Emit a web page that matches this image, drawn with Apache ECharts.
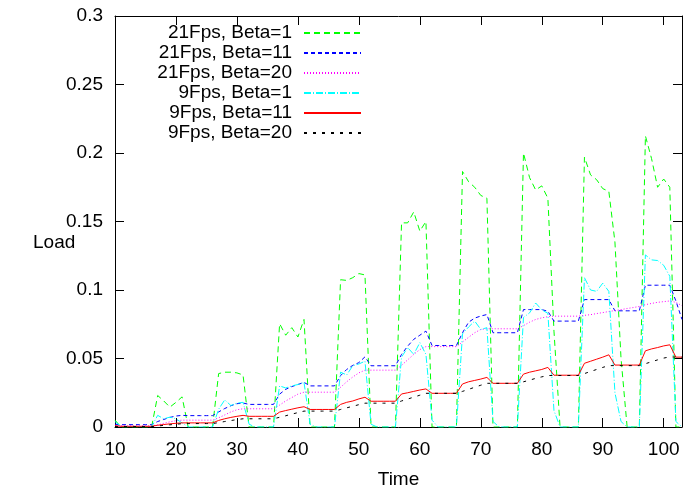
<!DOCTYPE html>
<html>
<head>
<meta charset="utf-8">
<script src="https://cdn.jsdelivr.net/npm/echarts@6/dist/echarts.min.js"></script>
<style>html,body{margin:0;padding:0;background:#fff;}#c{width:685px;height:494px;}</style>
</head>
<body>
<div id="c"></div>
<script>
var times = [10,11,12,13,14,15,16,17,18,19,20,21,22,23,24,25,26,27,28,29,30,31,32,33,34,35,36,37,38,39,40,41,42,43,44,45,46,47,48,49,50,51,52,53,54,55,56,57,58,59,60,61,62,63,64,65,66,67,68,69,70,71,72,73,74,75,76,77,78,79,80,81,82,83,84,85,86,87,88,89,90,91,92,93,94,95,96,97,98,99,100,101,102,103];

var fps21beta1 = [0.005,0,0,0,0,0,0,
  0.023,0.019,0.0145,0.018,0.022, 0,0,0,0,0,
  0.039,0.040,0.040,0.0395,0.038, 0,0,0,0,0,
  0.0754,0.067,0.0725,0.0657,0.0785, 0,0,0,0,0,
  0.1075,0.107,0.109,0.112,0.111, 0,0,0,0,0,
  0.149,0.149,0.157,0.143,0.150, 0,0,0,0,0,
  0.1865,0.179,0.175,0.169,0.167, 0,0,0,0,0,
  0.200,0.182,0.173,0.176,0.167, 0.07,0,0,0,0,
  0.197,0.184,0.1805,0.174,0.172, 0.135,0.05,0,0,0,
  0.2125,0.196,0.175,0.181,0.175, 0,0];

var fps21beta11 = [0.002,0.0017,0.0017,0.0017,0.0017,0.0017,0.0017,
  0.004,0.0055,0.007,0.008,0.0085, 0.0083,0.0083,0.0083,0.0083,0.0083,
  0.011,0.0135,0.0155,0.017,0.0175, 0.0165,0.0165,0.0165,0.0165,0.0165,
  0.024,0.0275,0.0295,0.031,0.0326, 0.030,0.030,0.030,0.030,0.030,
  0.0375,0.042,0.045,0.047,0.0512, 0.0447,0.0447,0.0447,0.0447,0.0447,
  0.053,0.059,0.064,0.067,0.070, 0.0595,0.0595,0.0595,0.0595,0.0595,
  0.0688,0.0765,0.0795,0.081,0.0821, 0.0688,0.0688,0.0688,0.0688,0.0688,
  0.0857,0.0857,0.0857,0.0857,0.0845, 0.0773,0.0773,0.0773,0.0773,0.0773,
  0.093,0.093,0.093,0.093,0.093, 0.0848,0.0848,0.0848,0.0848,0.0848,
  0.1035,0.1035,0.1035,0.1035,0.1035, 0.092,0.0785];

var fps21beta20 = [0.001,0.0008,0.0008,0.0008,0.0008,0.0008,0.0008,
  0.0015,0.0027,0.0038,0.0046,0.005, 0.005,0.005,0.005,0.005,0.005,
  0.0067,0.0088,0.011,0.0126,0.0133, 0.0133,0.0133,0.0133,0.0133,0.0133,
  0.016,0.019,0.0215,0.024,0.0254, 0.0254,0.0254,0.0254,0.0254,0.0254,
  0.029,0.033,0.0365,0.0395,0.0415, 0.0415,0.0415,0.0415,0.0415,0.0415,
  0.045,0.049,0.053,0.0565,0.0587, 0.0587,0.0587,0.0587,0.0587,0.0587,
  0.062,0.0655,0.0688,0.0712,0.0717, 0.0717,0.0717,0.0717,0.0717,0.0717,
  0.074,0.0765,0.0785,0.0797,0.0805, 0.0809,0.0809,0.0809,0.0809,0.0809,
  0.0815,0.082,0.0828,0.0835,0.0843, 0.085,0.0857,0.0865,0.0872,0.088,
  0.0893,0.0902,0.091,0.0915,0.092, 0.091,0.0885];

var fps9beta1 = [0.004,0.0003,0.0003,0.0003,0.0003,0.0003,0.0003,
  0.0085,0.006,0.0072,0.006,0.003, 0,0,0,0,0,
  0.013,0.0198,0.0157,0.0174,0.018, 0.002,0,0,0,0,
  0.030,0.0285,0.030,0.031,0.0326, 0.002,0,0,0,0,
  0.040,0.038,0.0447,0.046,0.048, 0.002,0,0,0,0,
  0.051,0.058,0.053,0.0616,0.053, 0.005,0,0,0,0,
  0.068,0.073,0.0773,0.0712,0.0725, 0.004,0,0,0,0,
  0.080,0.0833,0.0905,0.0855,0.083, 0.012,0,0,0,0,
  0.109,0.100,0.099,0.105,0.099, 0.025,0.004,0,0,0,
  0.1256,0.122,0.1215,0.118,0.110, 0.004,0];

var fps9beta11 = [0.001,0.0005,0.0005,0.0005,0.0005,0.0005,0.0005,
  0.0013,0.0018,0.0023,0.0027,0.003, 0.003,0.003,0.003,0.003,0.003,
  0.0048,0.006,0.007,0.0078,0.0085, 0.0078,0.0078,0.0078,0.0078,0.0078,
  0.0109,0.012,0.013,0.014,0.0148, 0.0128,0.0128,0.0128,0.0128,0.0128,
  0.0165,0.018,0.019,0.0205,0.0217, 0.0188,0.0188,0.0188,0.0188,0.0188,
  0.0241,0.025,0.026,0.027,0.0278, 0.0246,0.0246,0.0246,0.0246,0.0246,
  0.0314,0.033,0.034,0.035,0.0362, 0.0319,0.0319,0.0319,0.0319,0.0319,
  0.0386,0.040,0.041,0.042,0.0435, 0.0378,0.0378,0.0378,0.0378,0.0378,
  0.0465,0.048,0.0495,0.051,0.0527, 0.0452,0.0452,0.0452,0.0452,0.0452,
  0.0556,0.057,0.058,0.0592,0.060, 0.051,0.051];

var fps9beta20 = [0.0003,0.0003,0.0003,0.0003,0.0003,0.0003,0.0003,
  0.0007,0.0012,0.0016,0.002,0.0024, 0.0025,0.0025,0.0025,0.0025,0.0025,
  0.0032,0.004,0.0047,0.0054,0.006, 0.006,0.006,0.006,0.006,0.006,
  0.0071,0.0082,0.0094,0.0105,0.0116, 0.0116,0.0116,0.0116,0.0116,0.0116,
  0.0128,0.014,0.0151,0.0163,0.0174, 0.0174,0.0174,0.0174,0.0174,0.0174,
  0.019,0.0204,0.0218,0.0232,0.0246, 0.0246,0.0246,0.0246,0.0246,0.0246,
  0.026,0.0275,0.029,0.0305,0.0319, 0.0319,0.0319,0.0319,0.0319,0.0319,
  0.033,0.0342,0.0355,0.0366,0.0376, 0.0376,0.0376,0.0376,0.0376,0.0376,
  0.039,0.0405,0.042,0.0435,0.0448, 0.0448,0.0448,0.0448,0.0448,0.0448,
  0.0462,0.0476,0.049,0.0503,0.0512, 0.051,0.051];

var seriesNames = ['21Fps, Beta=1','21Fps, Beta=11','21Fps, Beta=20','9Fps, Beta=1','9Fps, Beta=11','9Fps, Beta=20'];
var seriesValues = [fps21beta1, fps21beta11, fps21beta20, fps9beta1, fps9beta11, fps9beta20];
var xTicks = [10,20,30,40,50,60,70,80,90,100];
var yTicks = [0,0.05,0.1,0.15,0.2,0.25,0.3];

var styles = [
  {color:'#00ff00', type:[6,4]},
  {color:'#0000ff', type:[4,3]},
  {color:'#ff00ff', type:[1,2]},
  {color:'#00ffff', type:[7,2,1,2]},
  {color:'#ff0000', type:'solid'},
  {color:'#000000', type:[3,6]}
];

var FONT = 'Liberation Sans, Arial, Helvetica, sans-serif';
var FS = 19;

var series = seriesNames.map(function(n, i){
  return {
    name: n, type: 'line', symbol: 'none', showSymbol: false,
    xAxisIndex: 0, yAxisIndex: 0,
    lineStyle: {color: styles[i].color, width: 1, type: styles[i].type},
    itemStyle: {color: styles[i].color},
    data: times.map(function(t, k){ return [t, seriesValues[i][k]]; })
  };
});

function xAxisBase(pos){
  return {
    type:'value', position: pos, min: 10, max: 103, interval: 10,
    axisLine:{show:true, onZero:false, lineStyle:{color:'#000', width:1}},
    axisTick:{show:true, inside:true, length:9, lineStyle:{color:'#000', width:1}},
    splitLine:{show:false}
  };
}
function yAxisBase(pos){
  return {
    type:'value', position: pos, min: 0, max: 0.3, interval: 0.05,
    axisLine:{show:true, onZero:false, lineStyle:{color:'#000', width:1}},
    axisTick:{show:true, inside:true, length:9, lineStyle:{color:'#000', width:1}},
    splitLine:{show:false}
  };
}

var xb = xAxisBase('bottom');
xb.name = 'Time'; xb.nameLocation = 'middle'; xb.nameGap = 43;
xb.nameTextStyle = {color:'#000', fontSize: FS, fontFamily: FONT};
xb.axisLabel = {show:true, margin: 13, color:'#000', fontSize: FS, fontFamily: FONT,
  formatter: function(v){ return xTicks.indexOf(v) >= 0 ? String(v) : ''; }};
var xt = xAxisBase('top'); xt.axisLabel = {show:false};

var yl = yAxisBase('left');
yl.axisLabel = {show:true, margin: 12, color:'#000', fontSize: FS, fontFamily: FONT,
  formatter: function(v){ for (var i=0;i<yTicks.length;i++){ if (Math.abs(yTicks[i]-v)<1e-9) return String(yTicks[i]); } return ''; }};
var yr = yAxisBase('right'); yr.axisLabel = {show:false};

var chart = echarts.init(document.getElementById('c'), null, {renderer:'canvas'});
chart.setOption({
  animation: false,
  backgroundColor: '#ffffff',
  grid: {left:115, right:2, top:16, bottom:64, containLabel:false},
  legend: {
    orient:'vertical', align:'right', right: 323, top: 23, padding: 0,
    itemWidth: 57, itemHeight: 10, itemGap: 0,
    itemStyle: {opacity: 0},
    textStyle: {color:'#000', fontSize: FS, fontFamily: FONT, lineHeight: 20, padding:[0,7,0,0]},
    data: seriesNames
  },
  graphic: [{
    type:'text', left: 33, top: 233, silent: true,
    style: {text:'Load', fill:'#000', fontSize: FS, fontFamily: FONT}
  }],
  xAxis: [xb, xt],
  yAxis: [yl, yr],
  series: series
});
</script>
</body>
</html>
